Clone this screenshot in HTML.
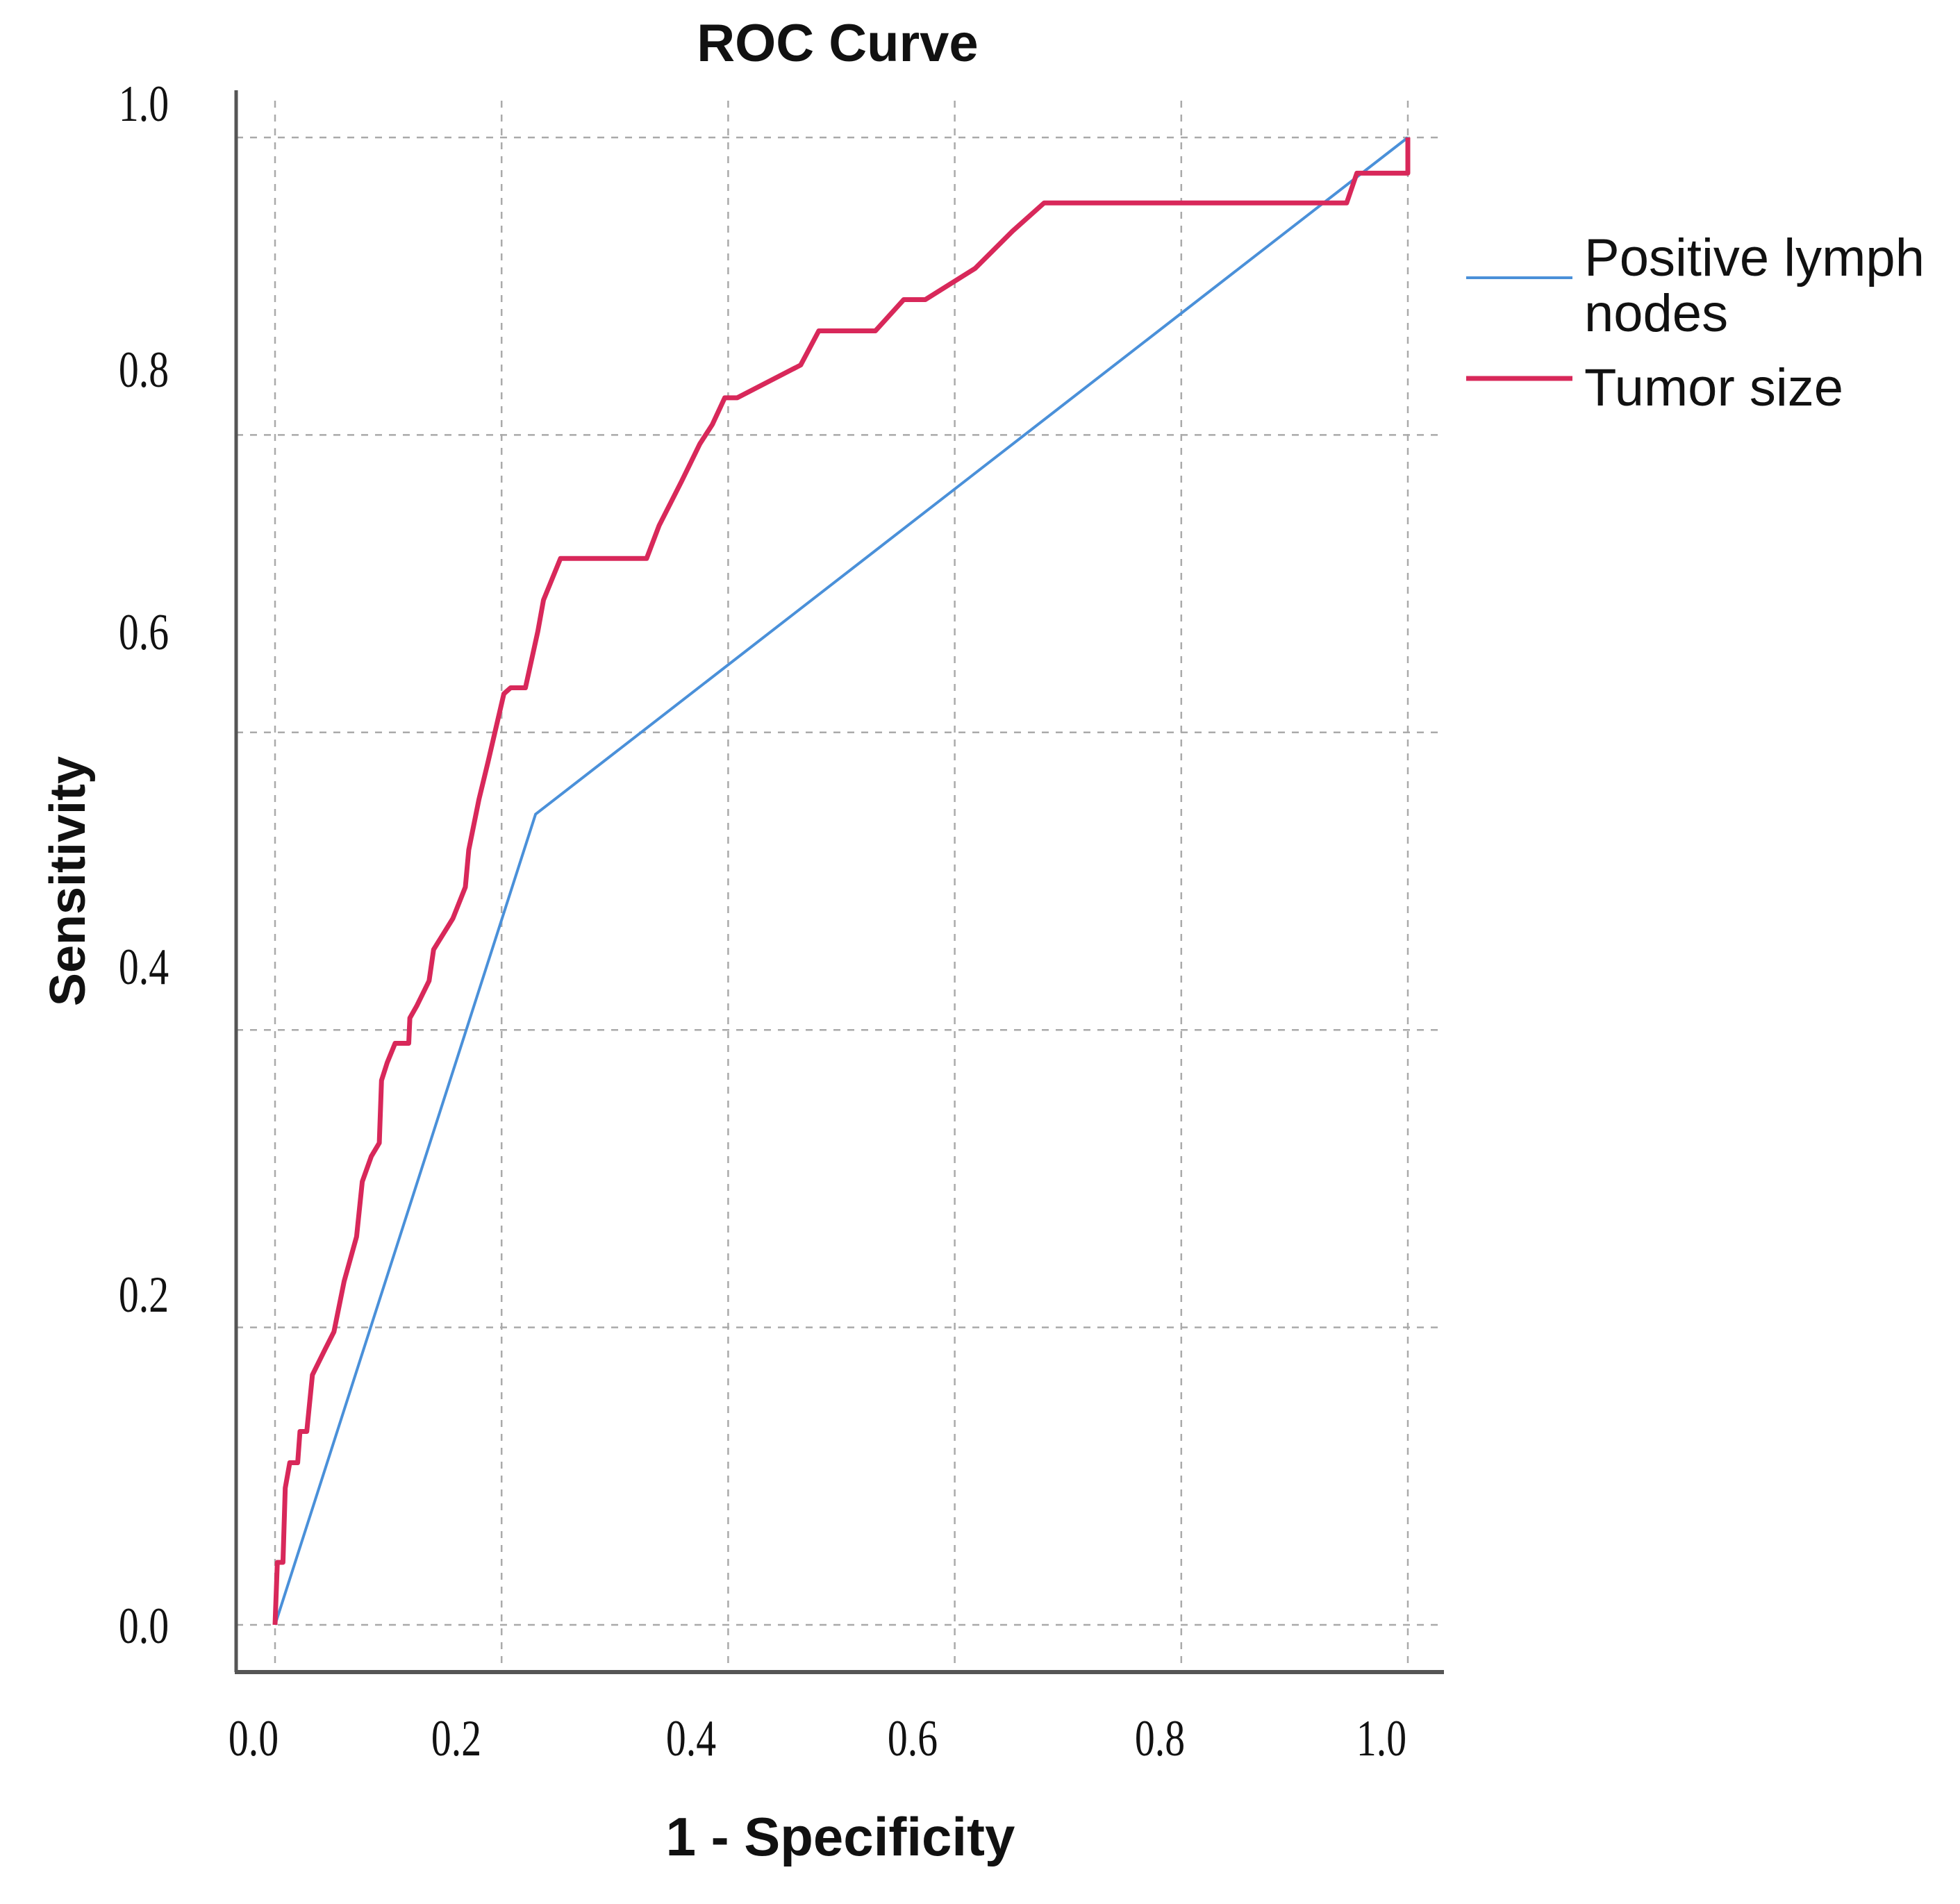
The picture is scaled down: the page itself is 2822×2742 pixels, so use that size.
<!DOCTYPE html>
<html><head><meta charset="utf-8"><style>
html,body{margin:0;padding:0;background:#fff;}
svg{display:block;}
</style></head><body>
<svg id="chart" width="2822" height="2742" viewBox="0 0 2822 2742" xmlns="http://www.w3.org/2000/svg">
<rect width="2822" height="2742" fill="#fff"/>
<g id="grid"></g>
<g id="series"></g>
<line x1="340" y1="130" x2="340" y2="2408" stroke="#555" stroke-width="5"/>
<line x1="338" y1="2408" x2="2079" y2="2408" stroke="#555" stroke-width="6"/>
<g id="ticks" font-family="Liberation Serif, serif" font-size="74" fill="#111"></g>
<text x="1206" y="88" text-anchor="middle" font-family="Liberation Sans, sans-serif" font-weight="bold" font-size="76" fill="#111">ROC Curve</text>
<text x="0" y="0" transform="translate(122,1269) rotate(-90)" text-anchor="middle" font-family="Liberation Sans, sans-serif" font-weight="bold" font-size="72" fill="#111">Sensitivity</text>
<text x="1210" y="2672" text-anchor="middle" font-family="Liberation Sans, sans-serif" font-weight="bold" font-size="78" fill="#111">1 - Specificity</text>
<g font-family="Liberation Sans, sans-serif" font-size="76" fill="#111">
<g>
<line x1="2111" y1="400" x2="2264" y2="400" stroke="#4a90d9" stroke-width="4"/>
<text x="2281" y="397">Positive lymph</text>
<text x="2281" y="477">nodes</text>
</g>
<g>
<line x1="2111" y1="545" x2="2264" y2="545" stroke="#d8285a" stroke-width="7"/>
<text x="2281" y="584">Tumor size</text>
</g>
</g>
</svg>
<script>
const xTicks = [0, 0.2, 0.4, 0.6, 0.8, 1.0];
const yTicks = [0, 0.2, 0.4, 0.6, 0.8, 1.0];
const xTickLabels = ["0.0","0.2","0.4","0.6","0.8","1.0"];
const yTickLabels = ["0.0","0.2","0.4","0.6","0.8","1.0"];
const lymphFpr = [0, 0.23, 1.0];
const lymphSens = [0, 0.545, 1.0];
const tumorFpr = [0,0.002,0.007,0.009,0.013,0.020,0.022,0.028,0.033,0.044,0.052,0.061,0.072,0.077,0.085,0.092,0.094,0.099,0.106,0.118,0.119,0.125,0.136,0.140,0.157,0.168,0.171,0.180,0.188,0.202,0.208,0.221,0.232,0.237,0.252,0.328,0.339,0.359,0.375,0.386,0.397,0.408,0.464,0.480,0.530,0.555,0.574,0.618,0.651,0.679,0.946,0.955,1.0,1.0];
const tumorSens = [0,0.042,0.042,0.092,0.109,0.109,0.130,0.130,0.168,0.185,0.197,0.231,0.261,0.298,0.315,0.324,0.366,0.378,0.391,0.391,0.408,0.416,0.433,0.454,0.475,0.496,0.521,0.555,0.580,0.626,0.630,0.630,0.668,0.689,0.717,0.717,0.739,0.769,0.794,0.807,0.825,0.825,0.847,0.870,0.870,0.891,0.891,0.912,0.937,0.956,0.956,0.976,0.976,1.0];

const NS = "http://www.w3.org/2000/svg";
function xs(v){ return 396 + v*(2027-396); }
function ys(v){ return 2340 - v*(2340-198); }
const yLabelPix = [2340,1863,1391,909,531,148];
const xLabelPix = [365,657,995,1314,1670,1989];

const grid = document.getElementById('grid');
xTicks.forEach(function(t){
  const l = document.createElementNS(NS,'line');
  l.setAttribute('x1',xs(t)); l.setAttribute('x2',xs(t));
  l.setAttribute('y1',145); l.setAttribute('y2',2408);
  l.setAttribute('stroke','#aaa'); l.setAttribute('stroke-width','2.5'); l.setAttribute('stroke-dasharray','10 10');
  
  
  grid.appendChild(l);
});
yTicks.forEach(function(t){
  const l = document.createElementNS(NS,'line');
  l.setAttribute('x1',340); l.setAttribute('x2',2079);
  l.setAttribute('y1',ys(t)); l.setAttribute('y2',ys(t));
  l.setAttribute('stroke','#aaa'); l.setAttribute('stroke-width','2.5'); l.setAttribute('stroke-dasharray','10 10');
  
  
  grid.appendChild(l);
});
const ticks = document.getElementById('ticks');
yTickLabels.forEach(function(s,i){
  const t = document.createElementNS(NS,'text');
  t.setAttribute('transform','translate(207,'+(yLabelPix[i]+26)+') scale(0.78,1)');
  t.setAttribute('text-anchor','middle');
  t.textContent = s;
  
  
  ticks.appendChild(t);
});
xTickLabels.forEach(function(s,i){
  const t = document.createElementNS(NS,'text');
  t.setAttribute('transform','translate('+xLabelPix[i]+',2528) scale(0.78,1)');
  t.setAttribute('text-anchor','middle');
  t.textContent = s;
  
  
  ticks.appendChild(t);
});
function pts(fx,fy){ return fx.map(function(v,i){ return xs(v).toFixed(1)+','+ys(fy[i]).toFixed(1); }).join(' '); }
const series = document.getElementById('series');
const pb = document.createElementNS(NS,'polyline');
pb.setAttribute('points', pts(lymphFpr,lymphSens));
pb.setAttribute('fill','none'); pb.setAttribute('stroke','#4a90d9'); pb.setAttribute('stroke-width','4');


series.appendChild(pb);
const pr = document.createElementNS(NS,'polyline');
pr.setAttribute('points', pts(tumorFpr,tumorSens));
pr.setAttribute('fill','none'); pr.setAttribute('stroke','#d8285a'); pr.setAttribute('stroke-width','7'); pr.setAttribute('stroke-linejoin','round');


series.appendChild(pr);
</script>
</body></html>
